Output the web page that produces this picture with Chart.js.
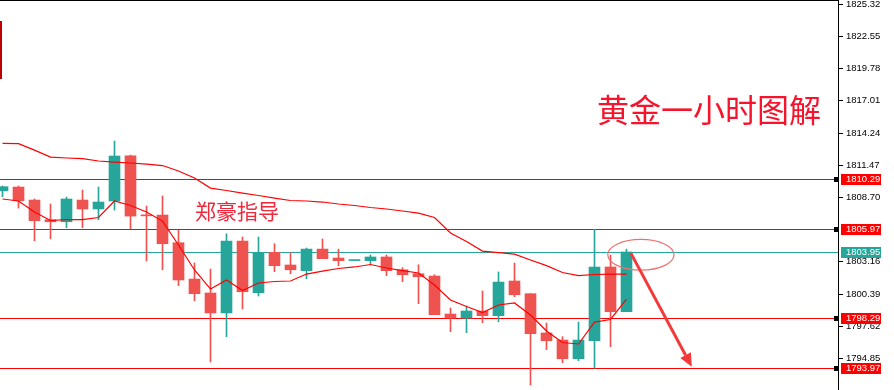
<!DOCTYPE html>
<html>
<head>
<meta charset="utf-8">
<script src="https://cdn.jsdelivr.net/npm/chart.js@4.4.0/dist/chart.umd.min.js"></script>
<style>
  html, body { margin: 0; padding: 0; background: #fff; }
  #wrap { position: relative; width: 894px; height: 390px; }
</style>
</head>
<body>
<div id="wrap"><canvas id="chart"></canvas></div>
<script>
// candles, oldest first (price)
const opens  = [1809.24,1809.56,1808.44,1806.75,1806.57,1808.44,1807.67,1808.36,1812.25,1807.15,
                1807.15,1804.77,1801.64,1800.44,1798.72,1804.91,1800.46,1803.94,1802.85,1802.36,
                1804.22,1803.45,1803.23,1803.22,1803.54,1802.44,1802.10,1801.90,1798.63,1798.29,
                1798.89,1798.49,1801.47,1800.38,1797.00,1796.39,1794.78,1796.33,1802.68,1798.83];
const highs  = [1809.65,1809.65,1808.53,1808.10,1808.70,1809.30,1809.56,1813.52,1812.31,1807.93,
                1808.79,1805.86,1803.02,1802.50,1805.54,1805.26,1805.26,1804.68,1803.91,1804.31,
                1805.09,1804.22,1803.26,1803.71,1803.71,1802.62,1802.87,1802.01,1799.15,1799.32,
                1800.61,1802.25,1803.02,1800.38,1797.86,1796.68,1797.94,1805.92,1803.71,1804.22];
const lows   = [1808.73,1807.75,1804.94,1805.11,1806.06,1806.06,1806.75,1807.58,1805.95,1803.19,
                1802.44,1801.07,1799.78,1794.50,1796.68,1799.06,1800.18,1802.27,1802.10,1801.67,
                1803.39,1802.79,1803.23,1802.93,1801.93,1801.41,1799.52,1798.57,1797.11,1797.02,
                1797.88,1797.97,1800.12,1792.52,1795.56,1794.44,1794.61,1793.98,1795.82,1798.83];
const closes = [1809.59,1808.38,1806.66,1806.57,1808.53,1807.67,1808.27,1812.23,1807.06,1807.08,
                1804.68,1801.56,1800.38,1798.72,1804.91,1800.55,1803.94,1802.79,1802.44,1804.22,
                1803.39,1803.22,1803.26,1803.54,1802.36,1802.01,1801.84,1798.57,1798.29,1798.89,
                1798.49,1801.38,1800.29,1796.94,1796.33,1794.78,1796.39,1802.68,1798.83,1803.97];

// two moving averages
const maSlow = [1813.32,1813.30,1812.74,1812.14,1812.06,1812.00,1811.80,1811.71,1811.63,1811.54,
                1811.41,1810.94,1810.34,1809.47,1809.26,1809.04,1808.83,1808.61,1808.40,1808.36,
                1808.27,1808.10,1807.97,1807.80,1807.67,1807.50,1807.32,1806.94,1805.60,1804.87,
                1804.05,1803.92,1803.79,1803.28,1802.80,1802.20,1801.94,1802.03,1802.07,1802.07];
const maFast = [1808.53,1808.36,1807.41,1806.68,1806.76,1806.76,1806.94,1808.36,1807.97,1807.41,
                1806.63,1804.57,1802.42,1800.78,1801.56,1800.65,1801.30,1801.43,1801.47,1802.07,
                1802.33,1802.55,1802.68,1802.89,1802.59,1802.37,1802.16,1801.13,1799.84,1799.28,
                1798.76,1799.41,1799.58,1798.54,1797.17,1796.18,1796.05,1797.94,1798.16,1799.92];

// price axis
const tickValues = [1825.32,1822.55,1819.78,1817.01,1814.24,1811.47,1808.70,1803.16,1800.39,1797.62,1794.85];
const redLevels = [1810.29,1805.97,1798.29,1793.97];
const tealLevels = [1803.95];

const TEAL = '#26a69a';
const RED = '#ef5350';

const idx = opens.map((_, i) => i);
const candleColor = idx.map(i => closes[i] >= opens[i] ? TEAL : RED);

// levels go behind candles, everything else on top
const overlay = {
  id: 'overlay',
  beforeDatasetsDraw(chart) {
    const { ctx, chartArea: a, scales: { y } } = chart;
    ctx.save();
    redLevels.forEach(v => {
      ctx.fillStyle = '#ff0000';
      ctx.fillRect(a.left, Math.round(y.getPixelForValue(v)), a.right - a.left, 1);
    });
    tealLevels.forEach(v => {
      ctx.fillStyle = TEAL;
      ctx.fillRect(a.left, Math.round(y.getPixelForValue(v)), a.right - a.left, 1);
    });
    ctx.restore();
  },
  afterDraw(chart) {
    const { ctx, chartArea: a, scales: { x, y } } = chart;
    ctx.save();

    // frame: top + price axis line
    ctx.fillStyle = '#000';
    ctx.fillRect(0, 0, a.right, 1);
    ctx.fillRect(a.right, 0, 1, chart.height);

    // little clipped red mark on the left edge
    ctx.fillStyle = '#c00000';
    ctx.fillRect(0, 21, 2, 58);

    // ticks
    ctx.font = '9.5px "Liberation Sans", Arial, sans-serif';
    ctx.textBaseline = 'middle';
    ctx.textAlign = 'left';
    tickValues.forEach(v => {
      const py = Math.round(y.getPixelForValue(v));
      ctx.fillStyle = '#000';
      ctx.fillRect(a.right + 1, py, 4, 1);
      ctx.fillText(v.toFixed(2), a.right + 8, py + 0.5);
    });

    // level tags
    const tag = (v, bg) => {
      const py = Math.round(y.getPixelForValue(v));
      ctx.fillStyle = bg;
      ctx.fillRect(a.right + 3, py - 5, 40, 11);
      ctx.fillStyle = '#fff';
      ctx.fillText(v.toFixed(2), a.right + 8, py + 0.5);
    };
    redLevels.forEach(v => {
      const py = Math.round(y.getPixelForValue(v));
      ctx.fillStyle = '#000';
      ctx.fillRect(a.right - 4, py - 2, 5, 5);
      tag(v, '#ff0000');
    });
    tealLevels.forEach(v => tag(v, TEAL));

    // texts
    ctx.fillStyle = '#f5142c';
    ctx.font = '32px "Noto Sans CJK SC", sans-serif';
    ctx.fillText('黄金一小时图解', x.getPixelForValue(37.16), y.getPixelForValue(1816.19));
    ctx.fillStyle = '#f0283c';
    ctx.font = '21px "Noto Sans CJK SC", sans-serif';
    ctx.fillText('郑豪指导', x.getPixelForValue(12.03), y.getPixelForValue(1807.50));

    // ellipse round the last high
    const cx = x.getPixelForValue(39.9), cy = y.getPixelForValue(1803.73);
    const rx = x.getPixelForValue(39.9 + 2.07) - cx;
    const ry = cy - y.getPixelForValue(1803.73 + 1.32);
    ctx.strokeStyle = '#f07070';
    ctx.lineWidth = 1.2;
    ctx.beginPath();
    ctx.ellipse(cx, cy, rx, ry, 0, 0, Math.PI * 2);
    ctx.stroke();

    // arrow down
    const x0 = x.getPixelForValue(39.28), y0 = y.getPixelForValue(1803.85);
    const x1 = x.getPixelForValue(43.08), y1 = y.getPixelForValue(1794.10);
    const ang = Math.atan2(y1 - y0, x1 - x0);
    const head = 13, half = 6;
    const bx = x1 - head * Math.cos(ang), by = y1 - head * Math.sin(ang);
    ctx.strokeStyle = '#f23a3a';
    ctx.fillStyle = '#f23a3a';
    ctx.lineWidth = 3;
    ctx.beginPath();
    ctx.moveTo(x0, y0);
    ctx.lineTo(bx, by);
    ctx.stroke();
    ctx.beginPath();
    ctx.moveTo(x1, y1);
    ctx.lineTo(bx + half * Math.sin(ang), by - half * Math.cos(ang));
    ctx.lineTo(bx - half * Math.sin(ang), by + half * Math.cos(ang));
    ctx.closePath();
    ctx.fill();

    ctx.restore();
  }
};

new Chart(document.getElementById('chart'), {
  type: 'bar',
  data: {
    datasets: [
      {
        type: 'line', label: 'MA slow',
        data: idx.map(i => ({ x: i, y: maSlow[i] })),
        borderColor: '#ff0000', borderWidth: 1.2, pointRadius: 0, tension: 0, order: 0
      },
      {
        type: 'line', label: 'MA fast',
        data: idx.map(i => ({ x: i, y: maFast[i] })),
        borderColor: '#ff0000', borderWidth: 1.2, pointRadius: 0, tension: 0, order: 0
      },
      {
        label: 'body',
        data: idx.map(i => ({ x: i, y: [opens[i], closes[i]] })),
        backgroundColor: candleColor, barThickness: 11, minBarLength: 1, grouped: false, order: 1
      },
      {
        label: 'wick',
        data: idx.map(i => ({ x: i, y: [lows[i], highs[i]] })),
        backgroundColor: candleColor, barThickness: 1, grouped: false, order: 2
      }
    ]
  },
  options: {
    responsive: true,
    maintainAspectRatio: false,
    animation: false,
    layout: { padding: 0 },
    plugins: { legend: { display: false }, tooltip: { enabled: false } },
    scales: {
      x: { type: 'linear', display: false, min: -0.15625, max: 52.21875, offset: false },
      y: {
        position: 'right', min: 1792.09, max: 1825.66,
        ticks: { display: false },
        grid: { display: false },
        border: { display: false },
        afterFit(s) { s.width = 56; }
      }
    }
  },
  plugins: [overlay]
});
</script>
</body>
</html>
